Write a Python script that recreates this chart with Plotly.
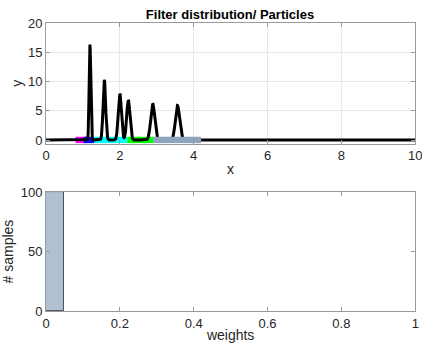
import numpy as np
import plotly.graph_objects as go

# ---- data ----
peak_centers = [1.19, 1.58, 2.00, 2.23, 2.89, 3.56]
peak_heights = [16.3, 10.3, 7.9, 6.8, 6.2, 5.9]
peak_sigmas = [0.021, 0.034, 0.042, 0.044, 0.054, 0.056]

# particle clusters drawn along y = 0 (start, end, colour)
particle_start = [0.80, 1.02, 1.30, 2.20]
particle_end = [1.10, 1.30, 2.20, 2.90]
particle_colors = ["#ff00ff", "#0000ff", "#00ffff", "#00ff00"]
top_particle_start = [2.90]
top_particle_end = [4.20]
top_particle_colors = ["#8ea4bd"]

# histogram of weights
hist_edges = [0.0, 0.05]
hist_counts = [100]

x_ticks_top = [0, 2, 4, 6, 8, 10]
y_ticks_top = [0, 5, 10, 15, 20]
x_ticks_bot = [0, 0.2, 0.4, 0.6, 0.8, 1]
x_tick_text_bot = ["0", "0.2", "0.4", "0.6", "0.8", "1"]
y_ticks_bot = [0, 50, 100]

# ---- build curve ----
xs = np.linspace(0, 10, 4001)
dens = np.zeros_like(xs)
for c, h, s in zip(peak_centers, peak_heights, peak_sigmas):
    dens += h * np.exp(-0.5 * ((xs - c) / s) ** 2)

fig = go.Figure()

for a, b, col in zip(particle_start, particle_end, particle_colors):
    fig.add_trace(go.Scatter(x=[a, b], y=[0, 0], mode="lines",
                             line=dict(color=col, width=6.5), xaxis="x", yaxis="y",
                             showlegend=False, hoverinfo="skip"))

fig.add_trace(go.Scatter(x=xs, y=dens, mode="lines", line=dict(color="black", width=3),
                         xaxis="x", yaxis="y", showlegend=False))

for a, b, col in zip(top_particle_start, top_particle_end, top_particle_colors):
    fig.add_trace(go.Scatter(x=[a, b], y=[0, 0], mode="lines",
                             line=dict(color=col, width=6.5), xaxis="x", yaxis="y",
                             showlegend=False, hoverinfo="skip"))

centers = [(hist_edges[i] + hist_edges[i + 1]) / 2 for i in range(len(hist_counts))]
widths = [hist_edges[i + 1] - hist_edges[i] for i in range(len(hist_counts))]
fig.add_trace(go.Bar(x=centers, y=hist_counts, width=widths,
                     marker=dict(color="#b0c0d2", line=dict(color="#4d4d4d", width=1)),
                     xaxis="x2", yaxis="y2", showlegend=False))

font_family = "Liberation Sans, Arial, sans-serif"
tick_font = dict(family=font_family, size=13, color="#262626")
ax_common = dict(showline=True, linecolor="#9a9a9a", linewidth=1, mirror="ticks",
                 ticks="inside", ticklen=4, tickcolor="#9a9a9a", tickfont=tick_font,
                 zeroline=False, automargin=False, ticklabeloverflow="allow")

fig.update_layout(
    width=422, height=343,
    margin=dict(l=0, r=0, t=0, b=0),
    paper_bgcolor="white", plot_bgcolor="white",
    font=dict(family=font_family, color="#262626"),
    title=dict(text="<b>Filter distribution/ Particles</b>", x=0.545, xanchor="center",
               y=0.958, yanchor="middle", font=dict(size=13, color="black")),
    xaxis=dict(domain=[0.109, 0.984], range=[0, 10], tickvals=x_ticks_top,
               showgrid=True, gridcolor="#e8e8e8", anchor="y",
               title=dict(text="x", font=dict(size=14), standoff=2), **ax_common),
    yaxis=dict(domain=[0.5816, 0.933], range=[-0.6, 20], tickvals=y_ticks_top,
               showgrid=True, gridcolor="#e8e8e8", anchor="x",
               title=dict(text="y", font=dict(size=14), standoff=2), **ax_common),
    xaxis2=dict(domain=[0.109, 0.984], range=[0, 1], tickvals=x_ticks_bot,
                ticktext=x_tick_text_bot, showgrid=False, anchor="y2",
                title=dict(text="weights", font=dict(size=14), standoff=2), **ax_common),
    yaxis2=dict(domain=[0.093, 0.440], range=[0, 100], tickvals=y_ticks_bot,
                showgrid=False, anchor="x2",
                title=dict(text="# samples", font=dict(size=14), standoff=6), **ax_common),
    bargap=0,
)

fig.write_html("out.html")
